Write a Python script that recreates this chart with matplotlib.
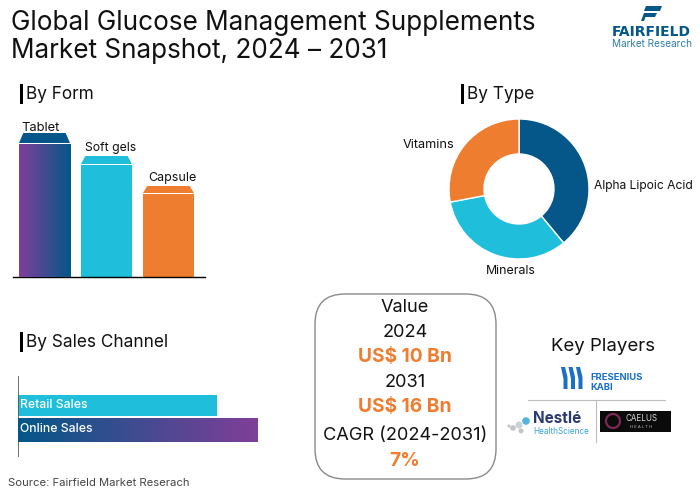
import numpy as np
import matplotlib.pyplot as plt
from matplotlib.colors import LinearSegmentedColormap
from matplotlib.patches import FancyBboxPatch, Polygon, Circle, Rectangle

plt.rcParams['font.family'] = ['Inter', 'DejaVu Sans']

W, H = 700, 491
NAVY = '#045788'
CYAN = '#1fbfdc'
ORANGE = '#ef7d30'
PURPLE = '#7f3f98'
INK = '#111111'

form_labels = ['Tablet', 'Soft gels', 'Capsule']
form_values = [144, 121, 91]
type_labels = ['Alpha Lipoic Acid', 'Minerals', 'Vitamins']
type_values = [39, 33, 28]
channel_labels = ['Online Sales', 'Retail Sales']
channel_values = [240, 199]
summary_lines = ['Value', '2024', 'US$ 10 Bn', '2031', 'US$ 16 Bn', 'CAGR (2024-2031)', '7%']


def px_axes(fig, x0, y0, x1, y1):
    """Axes placed by pixel box, y measured from the top of the picture."""
    ax = fig.add_axes([x0 / W, 1 - y1 / H, (x1 - x0) / W, (y1 - y0) / H])
    ax.patch.set_alpha(0)
    return ax


fig = plt.figure(figsize=(7, 4.91), dpi=100)

# overlay in pixel coordinates for headings, box and logos
bg = px_axes(fig, 0, 0, W, H)
bg.set_xlim(0, W)
bg.set_ylim(H, 0)
bg.axis('off')


def put(x, y, s, size, **kw):
    """Text on the overlay; Inter sits a bit high with va=center."""
    kw.setdefault('color', INK)
    return bg.text(x, y + 1.5, s, fontsize=size, va='center', **kw)


put(11, 21, 'Global Glucose Management Supplements', 18.8)
put(11, 49, 'Market Snapshot, 2024 – 2031', 18.8)

for x, y, label in [(20, 84, 'By Form'), (461, 84, 'By Type'), (20, 332, 'By Sales Channel')]:
    bg.add_patch(Rectangle((x, y), 2.6, 19.5, color='black', lw=0))
    put(x + 6, y + 9, label, 12.4)

put(8, 482, 'Source: Fairfield Market Reserach', 8.1, color='#444444')

# By Form bars
ax = px_axes(fig, 13, 127, 205, 277)
ax.axis('off')
ax.plot([-0.508, 2.59], [0, 0], color='black', lw=1, clip_on=False)
form_colors = [NAVY, CYAN, ORANGE]
cap_heights = [11, 9, 8]
bar_w = 0.823
for i, (val, col, cap) in enumerate(zip(form_values, form_colors, cap_heights)):
    left = i - bar_w / 2
    body = val - cap
    bars = ax.bar(i, body, width=bar_w, color=col, lw=0)
    if i == 0:
        cmap = LinearSegmentedColormap.from_list('form', [PURPLE, NAVY])
        im = ax.imshow(np.linspace(0, 1, 100).reshape(1, -1), extent=(left, left + bar_w, 0, body),
                       cmap=cmap, aspect='auto', zorder=2)
        im.set_clip_path(bars[0])
    inset = 0.07
    ax.add_patch(Polygon([(left, body + 1), (left + bar_w, body + 1),
                          (left + bar_w - inset, val), (left + inset, val)], color=col, lw=0, zorder=3))
ax.set_xlim(-0.508, 2.59)
ax.set_ylim(0, 150)

for x, y, label, size in zip([40, 111, 172], [126, 147, 177], form_labels, [9.3, 8.8, 9]):
    put(x, y, label, size, ha='center')

# By Type donut
ax = px_axes(fig, 449, 119, 589, 259)
ax.pie(type_values, colors=[NAVY, CYAN, ORANGE], startangle=90, counterclock=False, radius=1,
       wedgeprops={'width': 0.5, 'edgecolor': 'white', 'linewidth': 1})
ax.set_xlim(-1, 1)
ax.set_ylim(-1, 1)
for x, y, ha, label, size in zip([594, 511, 429], [184, 270, 143], ['left', 'center', 'center'], type_labels,
                                 [8.7, 8.9, 9.2]):
    put(x, y, label, size, ha=ha)

# By Sales Channel bars
ax = px_axes(fig, 18, 376, 278, 457)
ax.axis('off')
ax.plot([0, 0], [0, 81], color='#555555', lw=1.2)
bars = ax.barh([27, 51.5], channel_values, height=[24, 21], color=[NAVY, CYAN], lw=0)
cmap = LinearSegmentedColormap.from_list('channel', [NAVY, PURPLE])
im = ax.imshow(np.linspace(0, 1, 100).reshape(1, -1), extent=(0, channel_values[0], 15, 39),
               cmap=cmap, aspect='auto', zorder=2)
im.set_clip_path(bars[0])
ax.set_xlim(0, 260)
ax.set_ylim(0, 81)
for y, label in zip([27.5, 51.5], channel_labels):
    ax.text(2, y, label, fontsize=8.8, fontweight='medium', color='white', va='center', zorder=3)

# summary box
box = FancyBboxPatch((315, 294), 181, 185, boxstyle='round,pad=0,rounding_size=30',
                     fc='white', ec='#8a8a8a', lw=1)
bg.add_patch(box)
summary_y = [306, 331, 356, 381, 406, 434, 460]
for y, line in zip(summary_y, summary_lines):
    orange = line.startswith('US$') or line == '7%'
    put(405, y, line, 13.8 if orange else 13.1, ha='center',
        color=ORANGE if orange else INK, fontweight='bold' if orange else 'normal')

# key players
put(603, 345, 'Key Players', 13.4, ha='center')
bg.plot([528, 665], [400, 400], color='#bdbdbd', lw=0.8)
bg.plot([596, 596], [400, 442], color='#bdbdbd', lw=0.8)

# Fresenius mark
for x in [561, 568.5, 576]:
    bg.add_patch(Polygon([(x, 367), (x + 4, 367), (x + 6.5, 377), (x + 6.5, 389), (x + 2.5, 389), (x + 2.5, 379)],
                         color='#1a6fc9', lw=0))
put(590, 375.5, 'FRESENIUS', 6.8, fontweight='bold', color='#1a6fc9')
put(590, 385.5, 'KABI', 6.8, fontweight='bold', color='#1a6fc9')

# Nestle mark
for x, y, r, c in [(526, 421, 3.8, '#55b4dc'), (519, 425, 3.5, '#c9d2d8'), (513, 428, 2.8, '#c4c4c4'),
                   (521, 431, 2.5, '#c4c4c4'), (509, 426, 1.5, '#c4c4c4')]:
    bg.add_patch(Circle((x, y), r, color=c, lw=0))
put(533, 417, 'Nestlé', 11, fontweight='bold', color='#2b3a6d')
put(533, 430, 'HealthScience', 5.9, color='#3aa3d8')

# Caelus mark
bg.add_patch(Rectangle((600, 411), 71, 21, color='#0b0b0b', lw=0))
bg.add_patch(Circle((613, 421), 7, fc='none', ec='#7a2a55', lw=1.6))
put(641, 417, 'CAELUS', 5.8, color='#d8d8d8', ha='center')
put(641, 425, 'H E A L T H', 3, color='#bbbbbb', ha='center')

# Fairfield logo
bg.add_patch(Polygon([(646, 6), (662, 6), (660, 11), (644, 11)], color=NAVY, lw=0))
bg.add_patch(Polygon([(644, 13), (657, 13), (655, 17), (645.5, 17), (644, 21), (641, 21)], color=NAVY, lw=0))
bg.text(651.5, 32, 'FAIRFIELD', fontsize=10, fontweight='bold', family='DejaVu Sans', color=NAVY, ha='center', va='center')
put(651.5, 42, 'Market Research', 7.2, color='#2f7fa8', ha='center')

fig.savefig('out.png', dpi=100)
